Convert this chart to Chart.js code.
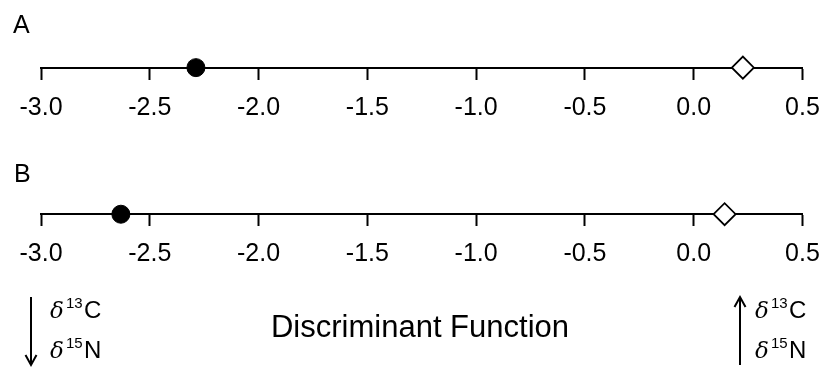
<!DOCTYPE html>
<html>
<head>
<meta charset="utf-8">
<script src="https://cdn.jsdelivr.net/npm/chart.js@4/dist/chart.umd.min.js"></script>
<style>
  body { margin: 0; background: #fff; }
  #wrap { width: 827px; height: 368px; }
</style>
</head>
<body>
<div id="wrap"><canvas id="dfChart" width="827" height="368"></canvas></div>
<script>
// panels and group means on the discriminant function
const panels = ['A', 'B'];
const filledMeans = [-2.288, -2.633];
const openMeans = [0.226, 0.142];
const axisMin = -3.0;
const axisMax = 0.5;
const tickStep = 0.5;

const FONT = '"Liberation Sans", Arial, sans-serif';

// one x axis per panel, each pinned to its row on the hidden y scale
const scales = {
    y: { display: false, min: 0.626, max: 2.626, reverse: true }
};
panels.forEach((p, i) => {
    scales['x' + p] = {
        type: 'linear',
        position: { y: i + 1 },
        min: axisMin,
        max: axisMax,
        border: { display: true, color: '#000', width: 2 },
        grid: { drawOnChartArea: false, drawTicks: true, tickLength: 11, tickWidth: 2, tickColor: '#000' },
        ticks: {
            stepSize: tickStep,
            maxRotation: 0,
            padding: 5,
            color: '#000',
            // tall line height pushes labels down without widening the side padding
            font: { family: FONT, size: 25, lineHeight: 1.92 },
            callback: v => v.toFixed(1)
        }
    };
});

const datasets = [];
panels.forEach((p, i) => {
    datasets.push({
        label: p + ' filled',
        xAxisID: 'x' + p,
        data: [{ x: filledMeans[i], y: i + 1 }],
        pointStyle: 'circle',
        pointRadius: 9,
        backgroundColor: '#000',
        borderColor: '#000',
        borderWidth: 1
    });
    datasets.push({
        label: p + ' open',
        xAxisID: 'x' + p,
        data: [{ x: openMeans[i], y: i + 1 }],
        pointStyle: 'rectRot',
        pointRadius: 11,
        backgroundColor: '#fff',
        borderColor: '#000',
        borderWidth: 1.8
    });
});

// panel letters, isotope arrows and axis caption
function isotope(ctx, x, base, mass, elem) {
    ctx.font = 'italic 23px "DejaVu Serif", serif';
    ctx.fillText('\u03B4', x, base);
    ctx.font = '15px ' + FONT;
    ctx.fillText(mass, x + 16, base - 10);
    ctx.font = '24px ' + FONT;
    ctx.fillText(elem, x + 34, base);
}

function arrow(ctx, x, y0, y1) {
    const dir = y1 > y0 ? 1 : -1;
    ctx.beginPath();
    ctx.moveTo(x, y0);
    ctx.lineTo(x, y1);
    ctx.moveTo(x - 5.5, y1 - dir * 10);
    ctx.lineTo(x, y1);
    ctx.lineTo(x + 5.5, y1 - dir * 10);
    ctx.stroke();
}

const annotations = {
    id: 'annotations',
    afterDraw(chart) {
        const ctx = chart.ctx;
        ctx.save();
        ctx.fillStyle = '#000';
        ctx.strokeStyle = '#000';
        ctx.lineWidth = 2;
        ctx.textBaseline = 'alphabetic';
        ctx.textAlign = 'left';

        ctx.font = '25px ' + FONT;
        ctx.fillText(panels[0], 13, 33);
        ctx.fillText(panels[1], 14, 182);

        arrow(ctx, 31, 297, 365);
        isotope(ctx, 50, 318, '13', 'C');
        isotope(ctx, 50, 358, '15', 'N');

        arrow(ctx, 740, 365, 297);
        isotope(ctx, 755, 318, '13', 'C');
        isotope(ctx, 755, 358, '15', 'N');

        ctx.font = '31px ' + FONT;
        ctx.textAlign = 'center';
        ctx.fillText('Discriminant Function', 420, 337);
        ctx.restore();
    }
};

new Chart(document.getElementById('dfChart'), {
    type: 'scatter',
    data: { datasets },
    options: {
        responsive: false,
        animation: false,
        layout: { padding: { top: 12, bottom: 62, left: 41, right: 24.5 } },
        scales,
        plugins: {
            legend: { display: false },
            tooltip: { enabled: false },
            title: { display: false }
        }
    },
    plugins: [annotations]
});
</script>
</body>
</html>
